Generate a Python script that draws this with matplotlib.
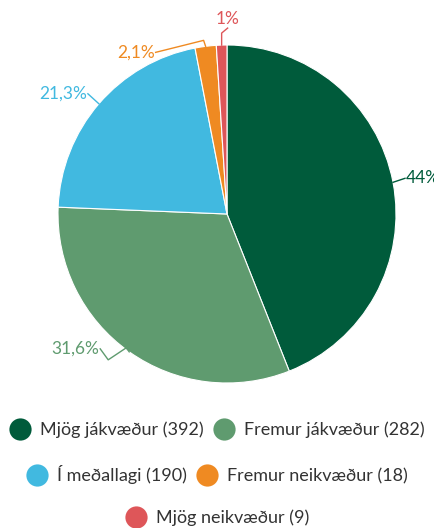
import numpy as np
import matplotlib.pyplot as plt
from matplotlib.lines import Line2D

plt.rcParams['font.family'] = ['Lato', 'DejaVu Sans']

# data
categories = ["Mjög jákvæður", "Fremur jákvæður", "Í meðallagi", "Fremur neikvæður", "Mjög neikvæður"]
counts = [392, 282, 190, 18, 9]
pct_labels = ["44%", "31,6%", "21,3%", "2,1%", "1%"]
colors = ["#005b3b", "#5f9b6f", "#41b9e0", "#ef8a22", "#de5659"]
legend_rows = [[0, 1], [2, 3], [4]]

fig = plt.figure(figsize=(4.34, 5.28), dpi=100)
ax = fig.add_axes([0, 0, 1, 1])

cx, cy, r = 227, 528 - 214, 169
wedges, _ = ax.pie(counts, colors=colors, startangle=90, counterclock=False,
                   center=(cx, cy), radius=r, frame=True,
                   wedgeprops=dict(edgecolor="white", linewidth=0.8))
ax.set_xlim(0, 434)
ax.set_ylim(0, 528)
ax.set_aspect("equal")
ax.axis("off")

# leader line shapes (offsets from slice edge, pixels)
leaders = [
    [(0, 0), (12, 4)],
    [(0, 0), (-3, 4), (-21, -8), (-29, 3)],
    [(0, 0), (-11, 10)],
    [(0, 0), (-2, 6), (-50, -6)],
    [(0, 0), (0, 12), (6, 17)],
]
aligns = [("left", "center"), ("right", "center"), ("right", "center"),
          ("right", "center"), ("center", "bottom")]

for w, lab, col, pts, (ha, va) in zip(wedges, pct_labels, colors, leaders, aligns):
    mid = np.deg2rad((w.theta1 + w.theta2) / 2)
    ex, ey = cx + r * np.cos(mid), cy + r * np.sin(mid)
    xs = [ex + p[0] for p in pts]
    ys = [ey + p[1] for p in pts]
    ax.plot(xs, ys, color=col, lw=1.0, clip_on=False)
    ax.text(xs[-1] + (1 if ha == "left" else -1 if ha == "right" else 0),
            ys[-1] + (0 if va == "center" else 1), lab, color=col,
            fontsize=12.5, ha=ha, va=va, clip_on=False)

# legend rows
row_y = [430, 475, 518]
for row, y in zip(legend_rows, row_y):
    handles = [Line2D([], [], ls="none", marker="o", markersize=16,
                      markerfacecolor=colors[i], markeredgecolor="none") for i in row]
    labels = [f"{categories[i]} ({counts[i]})" for i in row]
    fig.legend(handles, labels, loc="center", bbox_to_anchor=(0.5, 1 - y / 528),
               ncol=len(row), frameon=False, fontsize=13, handletextpad=0.5,
               columnspacing=0.5, handlelength=1.2, labelcolor="#333333")

fig.savefig("out.png", dpi=100)
